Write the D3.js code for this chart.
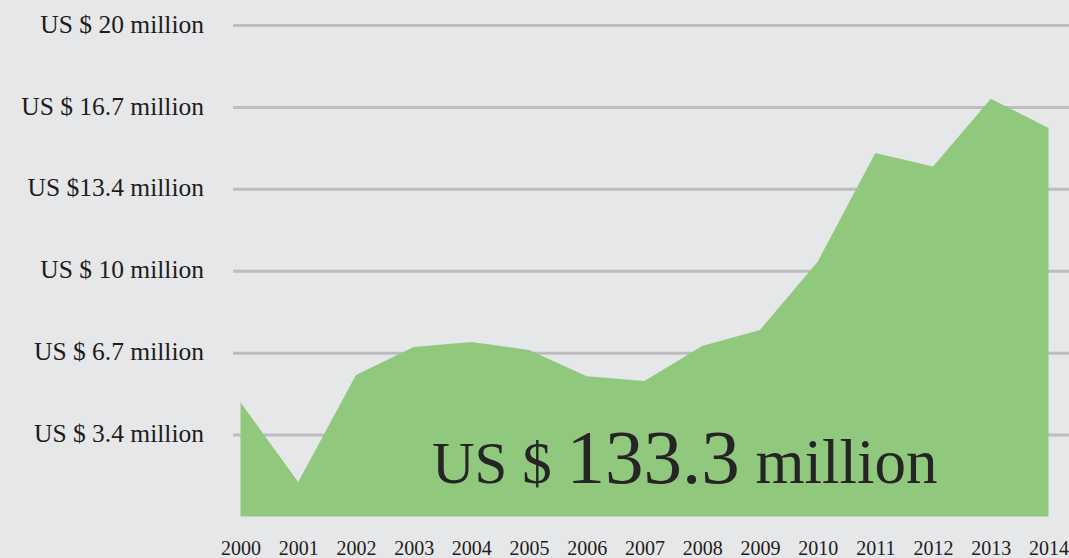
<!DOCTYPE html>
<html>
<head>
<meta charset="utf-8">
<script src="https://cdn.jsdelivr.net/npm/d3@7"></script>
<style>
  body { margin: 0; background: #e6e7e9; }
  svg { display: block; }
</style>
</head>
<body>
<script>
// Data
const years = ["2000","2001","2002","2003","2004","2005","2006","2007","2008","2009","2010","2011","2012","2013","2014"];
const values = [4.65, 1.4, 5.76, 6.9, 7.1, 6.78, 5.71, 5.51, 6.94, 7.59, 10.37, 14.79, 14.24, 17.0, 15.81];
const tickValues = [20 / 6, 40 / 6, 10, 80 / 6, 100 / 6, 20];
const tickLabels = ["US $ 3.4 million", "US $ 6.7 million", "US $ 10 million", "US $13.4 million", "US $ 16.7 million", "US $ 20 million"];
const totalLabel = ["US $ ", "133.3", " million"];

let width = 1069,
    height = 558;

let svg = d3.select('body')
    .append('svg')
    .attr('width', width)
    .attr('height', height);

svg.append('rect')
    .attr('width', width)
    .attr('height', height)
    .attr('fill', '#e6e7e9');

// Scales
let xScale = d3.scalePoint()
    .domain(years)
    .range([240.5, 1048.5]);

let yScale = d3.scaleLinear()
    .domain([0, 20])
    .range([516.5, 25]);

// Grid lines + y labels
let yAxis = svg.append('g')
    .attr('transform', 'translate(233,0)')
    .call(d3.axisLeft(yScale)
        .tickValues(tickValues)
        .tickSize(-(width - 233))
        .tickPadding(29)
        .tickFormat((d, i) => tickLabels[i]));

yAxis.select('.domain').remove();
yAxis.selectAll('.tick line')
    .attr('stroke', '#bdbdbf')
    .attr('stroke-width', 3);
yAxis.selectAll('.tick text')
    .attr('fill', '#1e1c1c')
    .attr('dy', '0.28em')
    .style('font-family', '"Liberation Serif", serif')
    .style('font-size', '25.5px');

// Area
let area = d3.area()
    .x((d, i) => xScale(years[i]))
    .y0(yScale(0))
    .y1(d => yScale(d));

svg.append('path')
    .datum(values)
    .attr('d', area)
    .attr('fill', '#90c97e');

// X axis labels
let xAxis = svg.append('g')
    .attr('transform', 'translate(0,535)')
    .call(d3.axisBottom(xScale).tickSize(0).tickPadding(6));

xAxis.select('.domain').remove();
xAxis.selectAll('.tick text')
    .attr('fill', '#1e1c1c')
    .style('font-family', '"Liberation Serif", serif')
    .style('font-size', '20px');

// Total label
let total = svg.append('text')
    .attr('x', 432)
    .attr('y', 483)
    .attr('fill', '#262424')
    .style('font-family', '"Liberation Serif", serif');

total.append('tspan').style('font-size', '59px').text(totalLabel[0]);
total.append('tspan').style('font-size', '77px').text(totalLabel[1]);
total.append('tspan').style('font-size', '63px').text(totalLabel[2]);
</script>
</body>
</html>
